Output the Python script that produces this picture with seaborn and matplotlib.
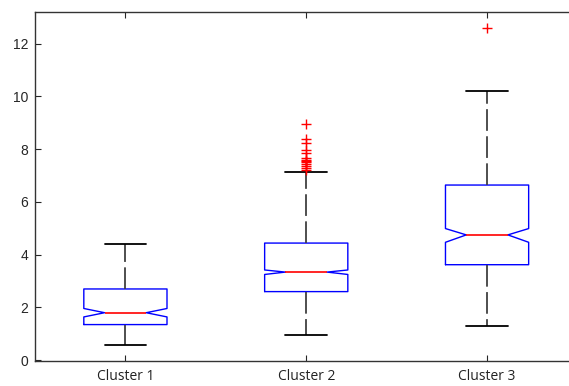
import matplotlib
matplotlib.use("Agg")
import seaborn as sns
import matplotlib.pyplot as plt

clusters = ["Cluster 1", "Cluster 2", "Cluster 3"]
whisker_low = [0.57, 0.95, 1.30]
q1 = [1.35, 2.60, 3.62]
medians = [1.80, 3.34, 4.75]
q3 = [2.70, 4.44, 6.64]
whisker_high = [4.40, 7.12, 10.20]
notch_low = [1.64, 3.25, 4.47]
notch_high = [1.96, 3.42, 4.99]
outliers = [
    [],
    [7.22, 7.30, 7.38, 7.45, 7.50, 7.55, 7.60, 7.65, 7.86, 7.98, 8.24, 8.37, 8.96],
    [12.6],
]

sns.set_style("ticks")
plt.rcParams['font.family'] = ['Liberation Sans', 'DejaVu Sans']

stats = []
for i, name in enumerate(clusters):
    stats.append(dict(label=name, whislo=whisker_low[i], q1=q1[i], med=medians[i],
                      q3=q3[i], whishi=whisker_high[i], cilo=notch_low[i],
                      cihi=notch_high[i], fliers=outliers[i]))

fig = plt.figure(figsize=(5.69, 3.86), dpi=100)
ax = fig.add_axes([0.0615, 0.0655, 0.9534, 0.9034])

ax.bxp(stats, positions=[1, 2, 3], widths=0.46, shownotches=True,
       boxprops=dict(color='blue', linewidth=1.0),
       medianprops=dict(color='red', linewidth=1.2),
       whiskerprops=dict(color='#404040', linewidth=1.3, linestyle=(0, (12, 3))),
       capprops=dict(color='black', linewidth=1.3),
       flierprops=dict(marker='+', markeredgecolor='red', markersize=7,
                       markeredgewidth=1.0, linestyle='none'))

ax.set_xlim(0.5, 3.5)
ax.set_ylim(-0.02, 13.2)
ax.set_yticks(range(0, 13, 2))
ax.set_xticks([1, 2, 3])
ax.set_xticklabels(clusters, family=['Open Sans', 'DejaVu Sans'], fontsize=10,
                   color='#222222')
ax.tick_params(axis='y', direction='in', right=False, length=4, labelsize=10, pad=5)
ax.tick_params(axis='x', direction='in', top=True, length=4, pad=6)
ax.spines['right'].set_visible(False)
for sp in ax.spines.values():
    sp.set_color('#333333')
    sp.set_linewidth(1.0)

fig.savefig("out.png", dpi=100)
